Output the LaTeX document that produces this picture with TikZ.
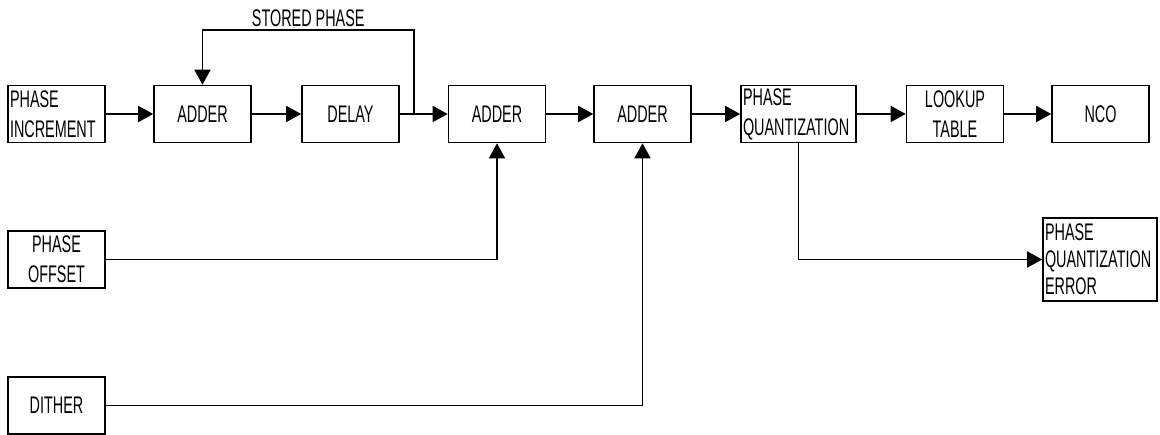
\documentclass[tikz,border=0pt]{standalone}
\usepackage{fontspec}
\setmainfont[FakeStretch=0.6]{Liberation Sans}
\usetikzlibrary{arrows.meta}

\begin{document}
\begin{tikzpicture}[x=1pt,y=-1pt,line width=1.6pt,font=\fontsize{24}{30}\selectfont,
	blk/.style={draw,minimum width=97pt,minimum height=57pt,inner xsep=2pt,inner ysep=0pt,align=center},
	lblk/.style={blk,align=left,text width=93pt},
	flow/.style={-{Triangle[length=15pt,width=16pt]}}]
			\useasboundingbox (0,0) rectangle (1160,435);
			\node[lblk] (inc) at (56.5,114) {PHASE\\INCREMENT};
			\node[blk] (add1) at (202.5,114) {ADDER};
			\node[blk] (dly) at (350.5,114) {DELAY};
			\node[blk] (add2) at (497,114) {ADDER};
			\node[blk] (add3) at (642.5,114) {ADDER};
			\node[lblk,text width=111pt] (quant) at (798.5,114) {PHASE\\QUANTIZATION};
			\node[blk] (lut) at (955,114) {LOOKUP\\TABLE};
			\node[blk] (nco) at (1100.5,114) {NCO};
			\node[lblk,text width=110pt,minimum height=83pt,font=\fontsize{24}{27}\selectfont] (qerr) at (1100,259.5) {PHASE\\QUANTIZATION\\ERROR};
			\node[blk] (ofs) at (56.5,259.5) {PHASE\\OFFSET};
			\node[blk] (dith) at (56.5,405.5) {DITHER};
			\coordinate (tap) at (414,114);
			\coordinate (fb) at (414,30);
			\draw[flow] (inc)--(add1);
			\draw[flow] (add1)--(dly);
			\draw[flow] (dly)--(add2);
			\draw[flow] (add2)--(add3);
			\draw[flow] (add3)--(quant);
			\draw[flow] (quant)--(lut);
			\draw[flow] (lut)--(nco);
			\draw[flow] (tap)--(fb)-|node[pos=0.25,above,inner sep=2pt]{STORED PHASE}(add1);
			\draw[flow] (ofs)-|(add2);
			\draw[flow] (dith)-|(add3);
			\draw[flow] (quant)|-(qerr);
		\end{tikzpicture}
\end{document}
